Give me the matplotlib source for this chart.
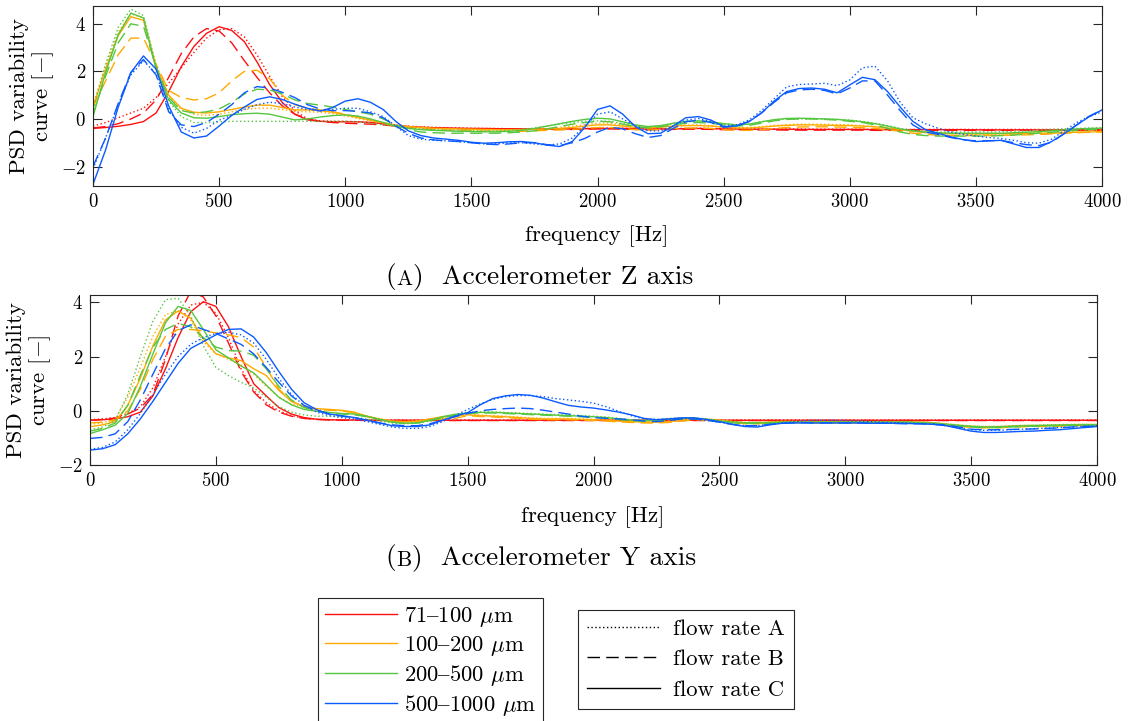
import matplotlib
matplotlib.use("Agg")
import matplotlib.pyplot as plt
from matplotlib.lines import Line2D

plt.rcParams['font.family'] = ['cmr10', 'DejaVu Serif']
plt.rcParams['mathtext.fontset'] = 'cm'
plt.rcParams['axes.formatter.use_mathtext'] = True
plt.rcParams['axes.unicode_minus'] = True

# ---------------- data ----------------
FREQ = list(range(0, 4001, 50))
SIZE_LABELS = ["71$\u2013$100 $\\mu$m", "100$\u2013$200 $\\mu$m", "200$\u2013$500 $\\mu$m", "500$\u2013$1000 $\\mu$m"]
FLOW_LABELS = ["flow rate A", "flow rate B", "flow rate C"]
X_TICKS = [0, 500, 1000, 1500, 2000, 2500, 3000, 3500, 4000]
Y_TICKS = [-2, 0, 2, 4]

# ---- Accelerometer Z axis ----
Z_RED_A = [-0.30,-0.15,0.05,0.25,0.45,0.9,1.5,2.15,2.8,3.4,
           3.75,3.8,3.45,2.7,1.8,0.95,0.35,0.0,-0.08,-0.1,
           -0.1,-0.12,-0.15,-0.2,-0.26,-0.3,-0.33,-0.35,-0.37,-0.38,
           -0.39,-0.40,-0.40,-0.41,-0.41,-0.42,-0.42,-0.41,-0.40,-0.40,
           -0.38,-0.38,-0.39,-0.40,-0.41,-0.41,-0.40,-0.40,-0.39,-0.40,
           -0.41,-0.41,-0.42,-0.42,-0.42,-0.42,-0.42,-0.43,-0.43,-0.43,
           -0.43,-0.43,-0.44,-0.44,-0.44,-0.44,-0.44,-0.44,-0.44,-0.44,
           -0.44,-0.44,-0.44,-0.44,-0.44,-0.44,-0.44,-0.44,-0.44,-0.44,
           -0.44]
Z_RED_B = [-0.38,-0.32,-0.2,0.0,0.25,0.8,1.75,2.75,3.45,3.8,
           3.7,3.2,2.45,1.75,1.1,0.55,0.2,0.0,-0.1,-0.15,
           -0.18,-0.2,-0.22,-0.25,-0.3,-0.33,-0.36,-0.38,-0.4,-0.41,
           -0.42,-0.42,-0.43,-0.43,-0.44,-0.44,-0.44,-0.44,-0.44,-0.43,
           -0.42,-0.42,-0.43,-0.44,-0.45,-0.45,-0.44,-0.43,-0.43,-0.44,
           -0.45,-0.45,-0.46,-0.46,-0.46,-0.47,-0.47,-0.47,-0.47,-0.47,
           -0.47,-0.47,-0.48,-0.48,-0.48,-0.48,-0.48,-0.48,-0.48,-0.48,
           -0.48,-0.48,-0.48,-0.48,-0.48,-0.48,-0.48,-0.48,-0.48,-0.48,
           -0.48]
Z_RED_C = [-0.40,-0.36,-0.31,-0.23,-0.11,0.25,1.15,2.2,3.05,3.6,
           3.88,3.72,3.25,2.4,1.45,0.7,0.2,-0.04,-0.1,-0.12,
           -0.12,-0.12,-0.15,-0.2,-0.27,-0.32,-0.35,-0.37,-0.38,-0.39,
           -0.40,-0.40,-0.41,-0.41,-0.42,-0.42,-0.42,-0.42,-0.42,-0.41,
           -0.40,-0.40,-0.40,-0.41,-0.42,-0.42,-0.42,-0.41,-0.40,-0.41,
           -0.42,-0.42,-0.43,-0.43,-0.43,-0.43,-0.44,-0.44,-0.44,-0.44,
           -0.44,-0.44,-0.45,-0.45,-0.45,-0.45,-0.45,-0.45,-0.45,-0.45,
           -0.46,-0.46,-0.46,-0.46,-0.46,-0.46,-0.46,-0.46,-0.46,-0.46,
           -0.46]
Z_ORANGE_A = [0.6,2.25,3.65,4.42,4.25,2.3,1.0,0.4,0.2,0.15,
              0.2,0.3,0.4,0.45,0.45,0.4,0.32,0.3,0.28,0.22,
              0.12,0.02,-0.08,-0.18,-0.27,-0.33,-0.37,-0.4,-0.42,-0.43,
              -0.44,-0.45,-0.46,-0.46,-0.45,-0.43,-0.4,-0.36,-0.3,-0.24,
              -0.18,-0.18,-0.25,-0.33,-0.36,-0.33,-0.28,-0.25,-0.25,-0.28,
              -0.33,-0.36,-0.36,-0.32,-0.27,-0.24,-0.22,-0.22,-0.23,-0.24,
              -0.25,-0.28,-0.32,-0.38,-0.45,-0.52,-0.57,-0.6,-0.62,-0.63,
              -0.64,-0.64,-0.63,-0.62,-0.6,-0.58,-0.56,-0.54,-0.52,-0.5,
              -0.48]
Z_ORANGE_B = [0.5,1.6,2.7,3.4,3.4,2.3,1.2,0.9,0.8,0.85,
              1.1,1.6,2.0,2.05,1.7,1.0,0.6,0.45,0.38,0.3,
              0.2,0.08,-0.05,-0.18,-0.3,-0.38,-0.42,-0.45,-0.47,-0.48,
              -0.5,-0.51,-0.52,-0.52,-0.52,-0.5,-0.48,-0.46,-0.44,-0.4,
              -0.36,-0.36,-0.4,-0.45,-0.47,-0.45,-0.4,-0.38,-0.38,-0.4,
              -0.45,-0.48,-0.48,-0.45,-0.4,-0.36,-0.34,-0.33,-0.33,-0.34,
              -0.35,-0.37,-0.4,-0.45,-0.52,-0.6,-0.65,-0.68,-0.7,-0.7,
              -0.7,-0.7,-0.69,-0.68,-0.67,-0.65,-0.63,-0.6,-0.58,-0.56,
              -0.55]
Z_ORANGE_C = [0.5,2.1,3.5,4.3,4.15,2.2,1.0,0.45,0.28,0.25,
              0.3,0.4,0.5,0.58,0.58,0.48,0.38,0.38,0.35,0.28,
              0.18,0.06,-0.05,-0.15,-0.25,-0.32,-0.36,-0.39,-0.41,-0.42,
              -0.43,-0.44,-0.45,-0.45,-0.45,-0.44,-0.42,-0.40,-0.36,-0.30,
              -0.25,-0.25,-0.3,-0.36,-0.38,-0.35,-0.3,-0.28,-0.28,-0.3,
              -0.35,-0.38,-0.38,-0.35,-0.3,-0.27,-0.25,-0.25,-0.26,-0.27,
              -0.28,-0.3,-0.33,-0.38,-0.45,-0.52,-0.57,-0.6,-0.62,-0.62,
              -0.63,-0.63,-0.62,-0.62,-0.61,-0.6,-0.6,-0.58,-0.56,-0.55,
              -0.53]
Z_GREEN_A = [0.4,2.3,3.85,4.62,4.35,2.2,0.75,0.1,-0.15,-0.15,
             -0.12,-0.1,-0.1,-0.1,-0.1,-0.1,-0.1,-0.1,-0.1,-0.1,
             -0.1,-0.12,-0.18,-0.25,-0.32,-0.38,-0.42,-0.45,-0.47,-0.48,
             -0.49,-0.5,-0.5,-0.48,-0.44,-0.38,-0.3,-0.22,-0.15,-0.1,
             -0.08,-0.1,-0.2,-0.3,-0.35,-0.3,-0.2,-0.12,-0.1,-0.13,
             -0.2,-0.25,-0.22,-0.12,-0.05,0.0,0.0,0.0,0.0,-0.02,
             -0.05,-0.1,-0.18,-0.28,-0.4,-0.48,-0.53,-0.55,-0.55,-0.55,
             -0.55,-0.55,-0.54,-0.52,-0.5,-0.47,-0.44,-0.42,-0.4,-0.38,
             -0.37]
Z_GREEN_B = [0.2,1.8,3.2,4.0,3.9,2.2,0.9,0.35,0.25,0.3,
             0.42,0.7,1.05,1.25,1.22,1.05,0.8,0.65,0.58,0.5,
             0.4,0.3,0.2,0.0,-0.25,-0.45,-0.55,-0.58,-0.6,-0.6,
             -0.6,-0.6,-0.6,-0.58,-0.55,-0.5,-0.42,-0.32,-0.22,-0.15,
             -0.1,-0.12,-0.22,-0.32,-0.38,-0.33,-0.25,-0.18,-0.15,-0.18,
             -0.25,-0.3,-0.27,-0.18,-0.08,-0.02,0.0,0.0,-0.02,-0.05,
             -0.1,-0.15,-0.25,-0.4,-0.55,-0.65,-0.7,-0.72,-0.72,-0.72,
             -0.72,-0.72,-0.7,-0.68,-0.64,-0.6,-0.56,-0.52,-0.48,-0.45,
             -0.43]
Z_GREEN_C = [0.1,1.95,3.55,4.45,4.25,2.1,0.8,0.25,0.05,0.03,
             0.1,0.18,0.22,0.24,0.2,0.08,-0.04,0.0,0.08,0.14,
             0.17,0.12,0.0,-0.15,-0.3,-0.4,-0.45,-0.48,-0.5,-0.52,
             -0.53,-0.54,-0.54,-0.52,-0.48,-0.4,-0.3,-0.2,-0.1,-0.02,
             0.03,0.0,-0.12,-0.25,-0.32,-0.28,-0.18,-0.1,-0.08,-0.12,
             -0.2,-0.25,-0.22,-0.12,-0.03,0.02,0.03,0.02,0.0,-0.02,
             -0.06,-0.12,-0.2,-0.3,-0.42,-0.5,-0.55,-0.58,-0.6,-0.6,
             -0.6,-0.6,-0.6,-0.58,-0.56,-0.53,-0.5,-0.46,-0.42,-0.4,
             -0.39]
Z_BLUE_A = [-2.1,-0.8,0.6,1.85,2.45,1.9,0.4,-0.35,-0.6,-0.4,
            -0.05,0.15,0.4,0.6,0.7,0.65,0.5,0.4,0.35,0.4,
            0.45,0.45,0.3,0.1,-0.3,-0.7,-0.85,-0.9,-0.92,-0.95,
            -1.0,-1.05,-1.05,-1.0,-1.0,-1.05,-1.1,-1.05,-0.8,-0.3,
            0.2,0.3,0.0,-0.3,-0.5,-0.5,-0.3,-0.05,0.02,-0.1,
            -0.3,-0.25,-0.05,0.35,0.85,1.35,1.45,1.47,1.5,1.4,
            1.64,2.15,2.22,1.6,0.7,0.05,-0.2,-0.39,-0.55,-0.65,
            -0.72,-0.78,-0.82,-0.9,-1.0,-1.02,-0.85,-0.5,-0.15,0.1,
            0.3]
Z_BLUE_B = [-2.0,-0.8,0.65,1.95,2.5,1.85,0.3,-0.25,-0.32,-0.15,
            0.2,0.6,1.1,1.36,1.3,1.12,0.9,0.6,0.42,0.35,
            0.35,0.32,0.25,0.05,-0.3,-0.6,-0.8,-0.88,-0.92,-0.95,
            -1.0,-1.05,-1.08,-1.05,-1.0,-1.0,-1.08,-1.12,-1.0,-0.82,
            -0.55,-0.35,-0.42,-0.62,-0.78,-0.7,-0.4,-0.12,-0.05,-0.15,
            -0.35,-0.3,-0.1,0.25,0.7,1.1,1.22,1.25,1.2,1.05,
            1.3,1.6,1.6,1.0,0.35,-0.25,-0.55,-0.65,-0.78,-0.88,
            -0.92,-0.92,-0.9,-1.0,-1.08,-1.12,-0.98,-0.62,-0.25,0.12,
            0.38]
Z_BLUE_C = [-2.75,-1.3,0.5,1.95,2.65,2.1,0.55,-0.55,-0.8,-0.72,
            -0.3,0.15,0.5,0.82,0.93,0.82,0.62,0.45,0.33,0.48,
            0.75,0.85,0.7,0.4,-0.1,-0.5,-0.7,-0.8,-0.85,-0.9,
            -0.98,-1.02,-1.0,-0.96,-0.95,-1.0,-1.1,-1.16,-0.95,-0.35,
            0.4,0.55,0.2,-0.32,-0.62,-0.6,-0.3,0.05,0.1,-0.05,
            -0.32,-0.3,-0.12,0.25,0.75,1.15,1.28,1.3,1.25,1.1,
            1.43,1.75,1.65,1.15,0.5,-0.1,-0.45,-0.6,-0.75,-0.87,
            -0.95,-0.92,-0.9,-1.05,-1.2,-1.2,-0.95,-0.62,-0.25,0.1,
            0.38]

# ---- Accelerometer Y axis ----
Y_RED_A = [-0.33,-0.3,-0.25,-0.1,0.15,0.85,2.0,3.2,3.9,4.0,
           3.6,2.7,1.55,0.75,0.3,0.0,-0.18,-0.28,-0.32,-0.33,
           -0.34,-0.34,-0.34,-0.34,-0.34,-0.34,-0.34,-0.34,-0.34,-0.34,
           -0.34,-0.34,-0.34,-0.34,-0.34,-0.34,-0.34,-0.34,-0.34,-0.34,
           -0.34,-0.34,-0.34,-0.34,-0.34,-0.34,-0.34,-0.34,-0.34,-0.34,
           -0.34,-0.34,-0.34,-0.34,-0.34,-0.34,-0.34,-0.34,-0.34,-0.34,
           -0.34,-0.34,-0.34,-0.34,-0.34,-0.34,-0.34,-0.34,-0.34,-0.34,
           -0.34,-0.34,-0.34,-0.34,-0.34,-0.34,-0.34,-0.34,-0.34,-0.34,
           -0.34]
Y_RED_B = [-0.35,-0.32,-0.27,-0.12,0.1,0.6,1.9,3.5,4.4,4.2,
           3.5,2.5,1.45,0.7,0.22,-0.05,-0.2,-0.28,-0.32,-0.34,
           -0.35,-0.35,-0.36,-0.36,-0.36,-0.36,-0.36,-0.36,-0.36,-0.36,
           -0.36,-0.36,-0.36,-0.36,-0.36,-0.36,-0.36,-0.36,-0.36,-0.36,
           -0.36,-0.36,-0.36,-0.36,-0.36,-0.36,-0.36,-0.36,-0.36,-0.36,
           -0.36,-0.36,-0.36,-0.36,-0.36,-0.36,-0.36,-0.36,-0.36,-0.36,
           -0.36,-0.36,-0.36,-0.36,-0.36,-0.36,-0.36,-0.36,-0.36,-0.36,
           -0.36,-0.36,-0.36,-0.36,-0.36,-0.36,-0.36,-0.36,-0.36,-0.36,
           -0.36]
Y_RED_C = [-0.35,-0.33,-0.3,-0.22,-0.05,0.55,1.55,2.7,3.65,4.02,
           3.85,3.1,2.0,1.0,0.55,0.12,-0.12,-0.25,-0.31,-0.33,
           -0.34,-0.34,-0.35,-0.35,-0.35,-0.35,-0.35,-0.35,-0.35,-0.35,
           -0.35,-0.35,-0.35,-0.35,-0.35,-0.35,-0.35,-0.35,-0.35,-0.35,
           -0.35,-0.35,-0.35,-0.35,-0.35,-0.35,-0.35,-0.35,-0.35,-0.35,
           -0.35,-0.35,-0.35,-0.35,-0.35,-0.35,-0.35,-0.35,-0.35,-0.35,
           -0.35,-0.35,-0.35,-0.35,-0.35,-0.35,-0.35,-0.35,-0.35,-0.35,
           -0.35,-0.35,-0.35,-0.35,-0.35,-0.35,-0.35,-0.35,-0.35,-0.35,
           -0.35]
Y_ORANGE_A = [-0.5,-0.45,-0.3,0.5,1.6,2.75,3.55,3.7,3.35,2.55,
              2.1,1.9,1.7,1.35,0.9,0.5,0.25,0.12,0.05,0.02,
              0.0,-0.08,-0.2,-0.3,-0.38,-0.4,-0.37,-0.3,-0.24,-0.2,
              -0.13,-0.16,-0.18,-0.2,-0.23,-0.26,-0.28,-0.28,-0.28,-0.3,
              -0.31,-0.33,-0.36,-0.38,-0.4,-0.4,-0.38,-0.33,-0.28,-0.3,
              -0.33,-0.38,-0.43,-0.43,-0.4,-0.38,-0.38,-0.4,-0.4,-0.4,
              -0.4,-0.4,-0.4,-0.4,-0.4,-0.4,-0.41,-0.44,-0.48,-0.53,
              -0.56,-0.58,-0.58,-0.56,-0.54,-0.53,-0.53,-0.52,-0.51,-0.5,
              -0.5]
Y_ORANGE_B = [-0.45,-0.42,-0.35,0.0,0.8,1.9,2.75,3.0,3.0,2.95,
              2.87,2.8,2.7,2.35,1.6,0.8,0.35,0.15,0.05,0.02,
              0.0,-0.08,-0.22,-0.32,-0.4,-0.42,-0.4,-0.35,-0.3,-0.28,
              -0.18,-0.21,-0.23,-0.25,-0.28,-0.31,-0.33,-0.33,-0.33,-0.35,
              -0.36,-0.38,-0.41,-0.43,-0.45,-0.45,-0.43,-0.38,-0.33,-0.35,
              -0.38,-0.43,-0.48,-0.48,-0.45,-0.43,-0.43,-0.45,-0.45,-0.45,
              -0.45,-0.45,-0.45,-0.45,-0.45,-0.45,-0.46,-0.48,-0.53,-0.58,
              -0.61,-0.63,-0.63,-0.61,-0.59,-0.58,-0.58,-0.57,-0.56,-0.55,
              -0.55]
Y_ORANGE_C = [-0.59,-0.52,-0.4,0.2,1.2,2.4,3.35,3.68,3.42,2.65,
              2.1,1.95,1.85,1.55,1.3,0.75,0.35,0.15,0.08,0.05,
              0.02,-0.05,-0.2,-0.3,-0.38,-0.4,-0.38,-0.3,-0.22,-0.18,
              -0.15,-0.18,-0.2,-0.22,-0.25,-0.28,-0.3,-0.3,-0.3,-0.32,
              -0.33,-0.35,-0.38,-0.4,-0.42,-0.42,-0.4,-0.35,-0.3,-0.32,
              -0.35,-0.4,-0.45,-0.45,-0.42,-0.4,-0.4,-0.42,-0.42,-0.42,
              -0.42,-0.42,-0.42,-0.42,-0.42,-0.42,-0.42,-0.45,-0.5,-0.55,
              -0.58,-0.6,-0.6,-0.58,-0.56,-0.55,-0.55,-0.54,-0.53,-0.52,
              -0.52]
Y_GREEN_A = [-0.7,-0.6,-0.35,0.6,2.0,3.3,4.1,4.15,3.5,2.4,
             1.6,1.3,1.05,0.85,0.5,0.15,-0.05,-0.15,-0.2,-0.2,
             -0.22,-0.25,-0.3,-0.38,-0.45,-0.48,-0.46,-0.38,-0.26,-0.16,
             -0.06,-0.04,-0.04,-0.06,-0.08,-0.1,-0.12,-0.14,-0.16,-0.18,
             -0.2,-0.23,-0.28,-0.33,-0.34,-0.33,-0.28,-0.26,-0.26,-0.3,
             -0.36,-0.4,-0.43,-0.43,-0.42,-0.4,-0.4,-0.4,-0.4,-0.4,
             -0.4,-0.4,-0.4,-0.4,-0.4,-0.4,-0.42,-0.44,-0.48,-0.52,
             -0.56,-0.58,-0.58,-0.56,-0.54,-0.53,-0.52,-0.51,-0.5,-0.5,
             -0.5]
Y_GREEN_B = [-0.75,-0.65,-0.45,0.2,1.3,2.35,3.0,3.22,3.1,2.7,
             2.35,2.22,2.2,2.05,1.55,0.9,0.4,0.12,0.0,-0.08,
             -0.12,-0.15,-0.22,-0.32,-0.42,-0.46,-0.45,-0.37,-0.25,-0.16,
             -0.1,-0.08,-0.08,-0.1,-0.12,-0.14,-0.16,-0.18,-0.2,-0.22,
             -0.24,-0.27,-0.32,-0.37,-0.38,-0.37,-0.32,-0.3,-0.3,-0.34,
             -0.4,-0.44,-0.47,-0.47,-0.46,-0.44,-0.44,-0.44,-0.44,-0.44,
             -0.44,-0.44,-0.44,-0.44,-0.44,-0.44,-0.46,-0.48,-0.52,-0.56,
             -0.6,-0.62,-0.62,-0.6,-0.58,-0.57,-0.56,-0.55,-0.54,-0.54,
             -0.54]
Y_GREEN_C = [-0.84,-0.7,-0.53,-0.1,0.9,2.1,3.25,3.85,3.7,3.0,
             2.25,1.95,1.65,1.4,0.95,0.5,0.22,0.05,-0.02,-0.06,
             -0.1,-0.12,-0.2,-0.32,-0.42,-0.46,-0.45,-0.35,-0.22,-0.13,
             -0.08,-0.06,-0.06,-0.08,-0.1,-0.12,-0.14,-0.16,-0.18,-0.2,
             -0.22,-0.25,-0.3,-0.35,-0.36,-0.35,-0.3,-0.28,-0.28,-0.32,
             -0.38,-0.42,-0.45,-0.45,-0.44,-0.42,-0.42,-0.42,-0.42,-0.42,
             -0.42,-0.42,-0.42,-0.42,-0.42,-0.42,-0.44,-0.46,-0.5,-0.54,
             -0.58,-0.6,-0.6,-0.58,-0.56,-0.55,-0.54,-0.53,-0.52,-0.52,
             -0.52]
Y_BLUE_A = [-1.42,-1.35,-1.15,-0.7,-0.1,0.6,1.35,2.0,2.45,2.7,
            2.85,2.9,2.8,2.5,1.9,1.2,0.6,0.2,-0.05,-0.18,
            -0.25,-0.3,-0.4,-0.5,-0.6,-0.65,-0.65,-0.58,-0.4,-0.18,
            0.05,0.25,0.42,0.52,0.56,0.56,0.52,0.45,0.4,0.35,
            0.28,0.15,-0.02,-0.18,-0.3,-0.32,-0.3,-0.28,-0.3,-0.36,
            -0.42,-0.5,-0.55,-0.55,-0.5,-0.45,-0.4,-0.36,-0.35,-0.35,
            -0.36,-0.38,-0.4,-0.42,-0.44,-0.45,-0.47,-0.5,-0.55,-0.62,
            -0.7,-0.72,-0.72,-0.7,-0.68,-0.66,-0.64,-0.62,-0.6,-0.57,
            -0.55]
Y_BLUE_B = [-1.02,-0.98,-0.85,-0.4,0.4,1.35,2.3,2.95,3.17,3.0,
            2.85,2.65,2.45,2.1,1.6,1.05,0.55,0.2,0.0,-0.12,
            -0.2,-0.25,-0.35,-0.45,-0.52,-0.55,-0.55,-0.48,-0.35,-0.22,
            -0.1,0.0,0.05,0.08,0.1,0.08,0.02,-0.05,-0.12,-0.2,
            -0.25,-0.28,-0.3,-0.33,-0.38,-0.4,-0.36,-0.3,-0.3,-0.35,
            -0.42,-0.5,-0.55,-0.55,-0.5,-0.46,-0.44,-0.44,-0.45,-0.45,
            -0.45,-0.45,-0.46,-0.46,-0.47,-0.48,-0.48,-0.5,-0.52,-0.6,
            -0.68,-0.7,-0.7,-0.69,-0.68,-0.67,-0.65,-0.63,-0.6,-0.58,
            -0.58]
Y_BLUE_C = [-1.45,-1.4,-1.25,-0.85,-0.3,0.35,1.05,1.75,2.3,2.55,
            2.8,3.0,3.02,2.72,2.15,1.45,0.8,0.3,0.04,-0.12,
            -0.18,-0.25,-0.35,-0.45,-0.55,-0.58,-0.58,-0.52,-0.35,-0.2,
            -0.07,0.22,0.45,0.55,0.6,0.57,0.47,0.33,0.2,0.14,
            0.1,0.03,-0.05,-0.15,-0.28,-0.33,-0.3,-0.26,-0.26,-0.32,
            -0.4,-0.5,-0.58,-0.6,-0.52,-0.46,-0.45,-0.45,-0.45,-0.45,
            -0.45,-0.45,-0.46,-0.46,-0.46,-0.47,-0.48,-0.5,-0.55,-0.65,
            -0.75,-0.8,-0.8,-0.78,-0.76,-0.75,-0.72,-0.7,-0.66,-0.62,
            -0.58]

Z_SERIES = [[Z_RED_A, Z_RED_B, Z_RED_C],
            [Z_ORANGE_A, Z_ORANGE_B, Z_ORANGE_C],
            [Z_GREEN_A, Z_GREEN_B, Z_GREEN_C],
            [Z_BLUE_A, Z_BLUE_B, Z_BLUE_C]]
Y_SERIES = [[Y_RED_A, Y_RED_B, Y_RED_C],
            [Y_ORANGE_A, Y_ORANGE_B, Y_ORANGE_C],
            [Y_GREEN_A, Y_GREEN_B, Y_GREEN_C],
            [Y_BLUE_A, Y_BLUE_B, Y_BLUE_C]]

# ---------------- style ----------------
COLORS = ['#ff1010', '#ffaa00', '#55c640', '#0a5aff']
DOT = (0, (1, 1.8))
DASH = (0, (9, 4.5))
STYLES = [DOT, DASH, '-']
FS_TICK = 13.5
FS_LABEL = 16.5
FS_YLABEL = 16.5
FS_CAP = 19.8
FS_LEG = 16.3
EDGE = '#262626'

fig = plt.figure(figsize=(11.29, 7.21), dpi=100)
ax1 = fig.add_axes([93/1129, 1-186/721, 1009/1129, 180/721])
ax2 = fig.add_axes([90/1129, 1-465/721, 1007/1129, 170/721])

for ax, series, ylim in ((ax1, Z_SERIES, (-2.82, 4.75)), (ax2, Y_SERIES, (-2.0, 4.27))):
    for color, group in zip(COLORS, series):
        for ls, vals in zip(STYLES, group):
            ax.plot(FREQ, vals, color=color, linestyle=ls, linewidth=1.0)
    ax.set_xlim(0, 4000)
    ax.set_ylim(*ylim)
    ax.set_xticks(X_TICKS)
    ax.set_yticks(Y_TICKS)
    ax.tick_params(direction='in', top=True, right=True, length=6.5, width=0.8,
                   color=EDGE, labelsize=FS_TICK, pad=5)
    for sp in ax.spines.values():
        sp.set_linewidth(0.8)
        sp.set_color(EDGE)

# axis labels
fig.text(33/1129, 1-96/721, "PSD variability\ncurve [$-$]", rotation=90,
         ha='center', va='center', fontsize=FS_YLABEL, linespacing=1.05)
fig.text(30/1129, 1-380/721, "PSD variability\ncurve [$-$]", rotation=90,
         ha='center', va='center', fontsize=FS_YLABEL, linespacing=1.05)
fig.text(597/1129, 1-236/721, "frequency [Hz]", ha='center', va='center', fontsize=FS_LABEL)
fig.text(593/1129, 1-517/721, "frequency [Hz]", ha='center', va='center', fontsize=FS_LABEL)


def caption(x, y, letter, rest):
    t1 = fig.text(x, y, "(", fontsize=FS_CAP, ha='left', va='bottom')
    t2 = ax1.annotate(letter, xy=(1, 0), xycoords=t1, fontsize=FS_CAP*0.78,
                      ha='left', va='bottom', xytext=(0.3, 0.7), textcoords='offset points')
    ax1.annotate(rest, xy=(1, 0), xycoords=t2, fontsize=FS_CAP,
                 ha='left', va='bottom', xytext=(0.3, -0.7), textcoords='offset points')


caption(385/1129, 1-290/721, "A", ")  Accelerometer Z axis")
caption(385/1129, 1-571/721, "B", ")  Accelerometer Y axis")

# legends
size_handles = [Line2D([], [], color=c, lw=1.0) for c in COLORS]
flow_handles = [Line2D([], [], color='black', lw=1.0, linestyle=s) for s in STYLES]
leg1 = fig.legend(size_handles, SIZE_LABELS, loc='upper left',
                  bbox_to_anchor=(318/1129, 1-598/721), fontsize=FS_LEG,
                  frameon=True, fancybox=False, framealpha=1, edgecolor=EDGE,
                  handlelength=3.2, handletextpad=0.3, labelspacing=0.22,
                  borderpad=0.3, borderaxespad=0)
leg1.get_frame().set_linewidth(0.8)
leg2 = fig.legend(flow_handles, FLOW_LABELS, loc='upper left',
                  bbox_to_anchor=(578/1129, 1-610/721), fontsize=FS_LEG,
                  frameon=True, fancybox=False, framealpha=1, edgecolor=EDGE,
                  handlelength=3.2, handletextpad=0.6, labelspacing=0.47,
                  borderpad=0.4, borderaxespad=0)
leg2.get_frame().set_linewidth(0.8)

fig.savefig("out.png", dpi=100)
